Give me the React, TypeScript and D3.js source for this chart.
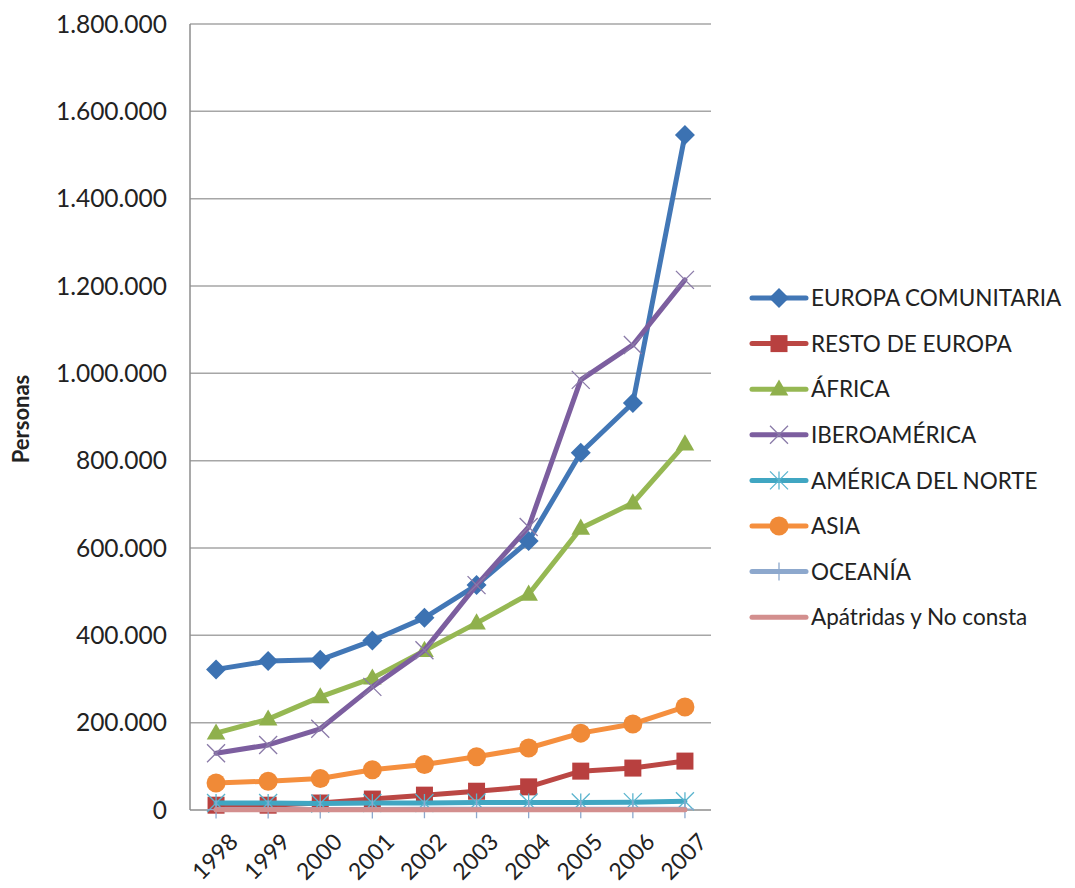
import React from "react";
import * as d3 from "d3";

const years = ["1998", "1999", "2000", "2001", "2002", "2003", "2004", "2005", "2006", "2007"];
const yTicks = [0, 200000, 400000, 600000, 800000, 1000000, 1200000, 1400000, 1600000, 1800000];

const europaComunitaria = [322000, 341000, 344000, 388000, 440000, 515000, 616000, 818000, 932000, 1546000];
const restoEuropa = [11000, 11000, 16000, 25000, 34000, 43000, 53000, 89000, 96000, 112000];
const africa = [176000, 208000, 259000, 302000, 365000, 428000, 494000, 645000, 703000, 838000];
const iberoamerica = [130000, 149000, 186000, 282000, 366000, 515000, 648000, 985000, 1065000, 1214000];
const americaNorte = [16000, 16000, 15000, 16000, 16000, 17000, 17000, 17000, 18000, 20000];
const asia = [62000, 66000, 72000, 92000, 104000, 122000, 142000, 176000, 197000, 236000];
const oceania = [1000, 1000, 1000, 1000, 1500, 1500, 2000, 2000, 2000, 2000];
const apatridas = [800, 800, 800, 800, 800, 800, 800, 800, 800, 800];

type Marker = "diamond" | "square" | "triangle" | "x" | "star" | "circle" | "plus" | "none";

const series: { name: string; values: number[]; color: string; marker: Marker; markerColor: string }[] = [
  { name: "EUROPA COMUNITARIA", values: europaComunitaria, color: "#4277B6", marker: "diamond", markerColor: "#3C72B2" },
  { name: "RESTO DE EUROPA", values: restoEuropa, color: "#BB4744", marker: "square", markerColor: "#B8403F" },
  { name: "ÁFRICA", values: africa, color: "#96B853", marker: "triangle", markerColor: "#8FB04C" },
  { name: "IBEROAMÉRICA", values: iberoamerica, color: "#7C5E9F", marker: "x", markerColor: "#8A7AA8" },
  { name: "AMÉRICA DEL NORTE", values: americaNorte, color: "#40A6C2", marker: "star", markerColor: "#5AB4CE" },
  { name: "ASIA", values: asia, color: "#F58F3E", marker: "circle", markerColor: "#F08A37" },
  { name: "OCEANÍA", values: oceania, color: "#8DA8CD", marker: "plus", markerColor: "#8DA8CD" },
  { name: "Apátridas y No consta", values: apatridas, color: "#D38F8E", marker: "none", markerColor: "#D38F8E" },
];

const W = 1075;
const H = 888;
const plot = { left: 190, right: 711, top: 24, bottom: 810 };
const FONT = "Lato, 'Open Sans', sans-serif";

const locale = d3.formatLocale({ decimal: ",", thousands: ".", grouping: [3], currency: ["", ""] });
const fmt = locale.format(",d");

function MarkerShape({ type, x, y, color }: { type: Marker; x: number; y: number; color: string }) {
  switch (type) {
    case "diamond": {
      const r = 10;
      return <path d={`M${x},${y - r}L${x + r},${y}L${x},${y + r}L${x - r},${y}Z`} fill={color} />;
    }
    case "square": {
      const s = 17;
      return <rect x={x - s / 2} y={y - s / 2} width={s} height={s} fill={color} />;
    }
    case "triangle": {
      const p = d3.symbol().type(d3.symbolTriangle).size(150)();
      return <path d={p || ""} transform={`translate(${x},${y + 1})`} fill={color} />;
    }
    case "circle":
      return <circle cx={x} cy={y} r={9.5} fill={color} />;
    case "x": {
      const r = 9;
      return (
        <path
          d={`M${x - r},${y - r}L${x + r},${y + r}M${x - r},${y + r}L${x + r},${y - r}`}
          stroke={color}
          strokeWidth={1.3}
          fill="none"
        />
      );
    }
    case "star": {
      const r = 9;
      return (
        <path
          d={`M${x - r},${y - r}L${x + r},${y + r}M${x - r},${y + r}L${x + r},${y - r}M${x},${y - r}L${x},${y + r}`}
          stroke={color}
          strokeWidth={1.3}
          fill="none"
        />
      );
    }
    case "plus": {
      const r = 9;
      return (
        <path d={`M${x},${y - r}L${x},${y + r}M${x - r},${y}L${x + r},${y}`} stroke={color} strokeWidth={1.3} fill="none" />
      );
    }
    default:
      return null;
  }
}

export default function App() {
  const x = d3.scaleBand<string>().domain(years).range([plot.left, plot.right]);
  const cx = (yr: string) => (x(yr) as number) + x.bandwidth() / 2;
  const y = d3.scaleLinear().domain([0, 1800000]).range([plot.bottom, plot.top]);

  const line = d3
    .line<number>()
    .x((_, i) => cx(years[i]))
    .y((v) => y(v));

  const legendX = 752;
  const legendY0 = 298;
  const legendStep = 45.6;

  return (
    <div style={{ position: "absolute", left: 0, top: 0 }}>
      <svg width={W} height={H} viewBox={`0 0 ${W} ${H}`} style={{ display: "block", background: "#fff" }}>
        <rect x={0} y={0} width={W} height={H} fill="#fff" />
        {/* gridlines */}
        {yTicks.slice(1).map((t) => (
          <line key={t} x1={plot.left} x2={plot.right} y1={y(t)} y2={y(t)} stroke="#A6A6A6" strokeWidth={1.5} />
        ))}
        {/* axes */}
        <line x1={plot.left} x2={plot.left} y1={plot.top} y2={plot.bottom} stroke="#8C8C8C" strokeWidth={1.5} />
        <line x1={plot.left} x2={plot.right} y1={plot.bottom} y2={plot.bottom} stroke="#8C8C8C" strokeWidth={1.5} />
        {/* y tick labels */}
        {yTicks.map((t) => (
          <text
            key={t}
            x={167}
            y={y(t)}
            dy="0.35em"
            textAnchor="end"
            fontFamily={FONT}
            fontSize={24.5}
            fill="#222"
          >
            {fmt(t)}
          </text>
        ))}
        {/* y axis title */}
        <text
          transform={`translate(29,${(plot.top + plot.bottom) / 2 + 2}) rotate(-90)`}
          textAnchor="middle"
          fontFamily={FONT}
          fontSize={22}
          fontWeight="bold"
          fill="#222"
        >
          Personas
        </text>
        {/* x labels */}
        {years.map((yr) => (
          <text
            key={yr}
            transform={`translate(${cx(yr) + 12},${plot.bottom + 22}) rotate(-45)`}
            textAnchor="end"
            dy="0.7em"
            fontFamily={FONT}
            fontSize={23}
            fill="#222"
          >
            {yr}
          </text>
        ))}
        {/* series */}
        {series.map((s) => (
          <g key={s.name}>
            <path
              d={line(s.values) || ""}
              fill="none"
              stroke={s.color}
              strokeWidth={5}
              strokeLinejoin="round"
              strokeLinecap="round"
            />
            {s.values.map((v, i) => (
              <MarkerShape key={i} type={s.marker} x={cx(years[i])} y={y(v)} color={s.markerColor} />
            ))}
          </g>
        ))}
        {/* legend */}
        {series.map((s, i) => {
          const ly = legendY0 + i * legendStep;
          return (
            <g key={s.name}>
              <line x1={legendX} x2={legendX + 54} y1={ly} y2={ly} stroke={s.color} strokeWidth={5} strokeLinecap="round" />
              <MarkerShape type={s.marker} x={legendX + 27} y={ly} color={s.markerColor} />
              <text x={legendX + 59} y={ly} dy="0.36em" fontFamily={FONT} fontSize={22.5} fill="#222">
                {s.name}
              </text>
            </g>
          );
        })}
      </svg>
    </div>
  );
}
